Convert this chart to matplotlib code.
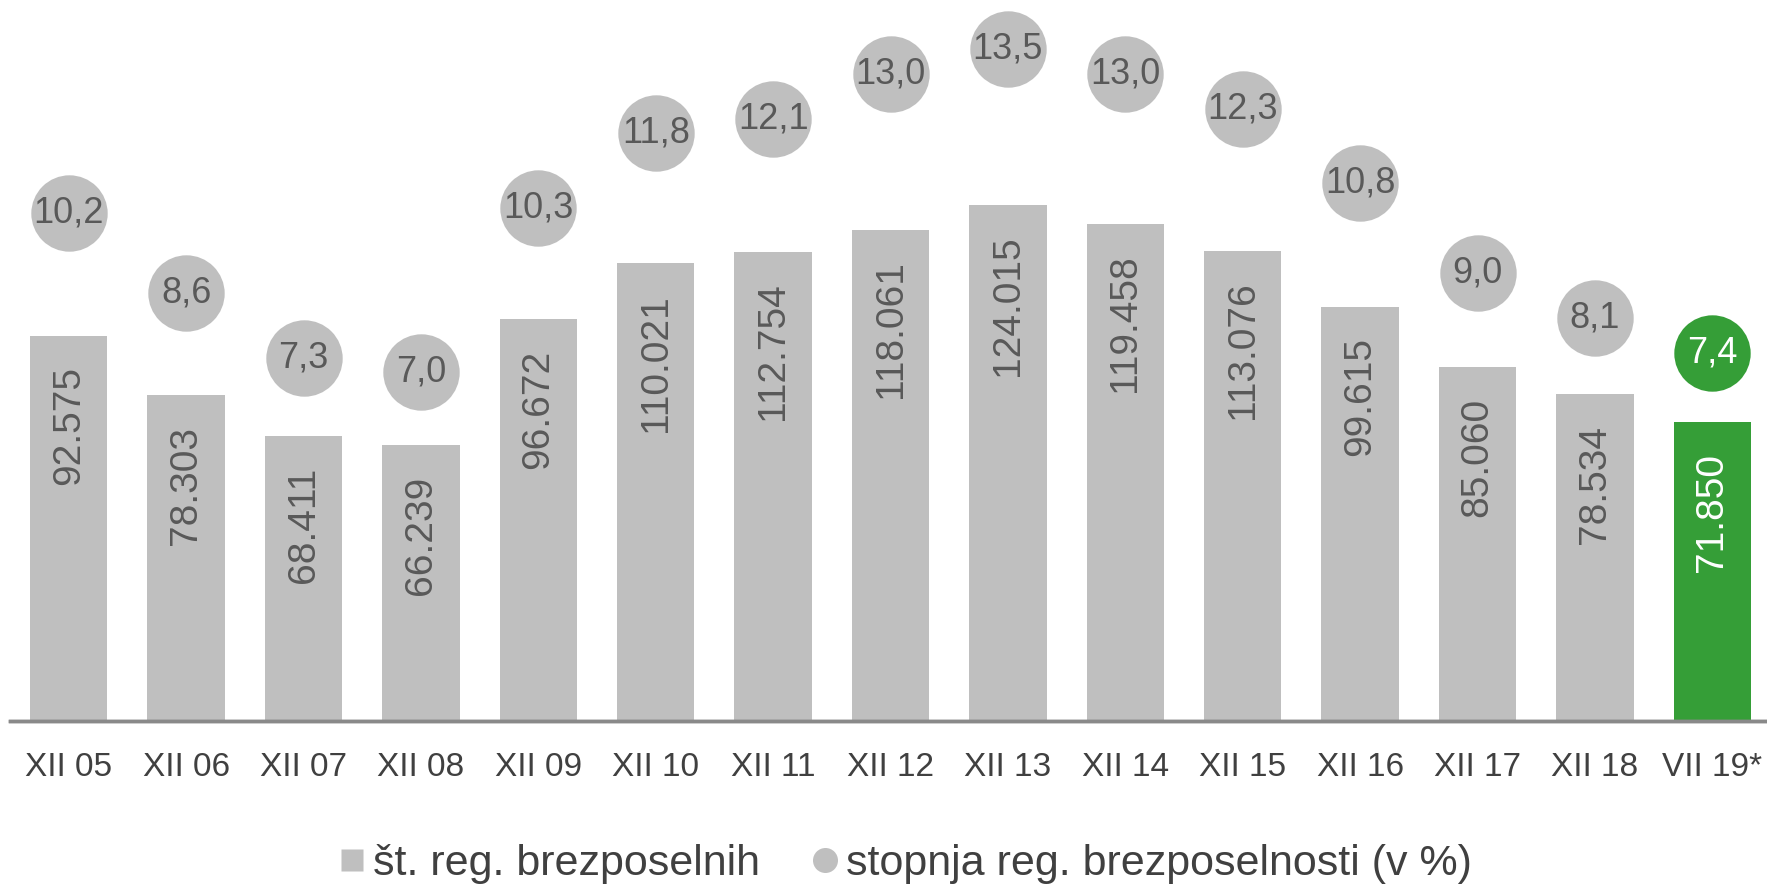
import matplotlib.pyplot as plt
from matplotlib.lines import Line2D

plt.rcParams["font.family"] = ["Liberation Sans", "DejaVu Sans"]

labels = ["XII 05", "XII 06", "XII 07", "XII 08", "XII 09", "XII 10", "XII 11",
          "XII 12", "XII 13", "XII 14", "XII 15", "XII 16", "XII 17", "XII 18", "VII 19*"]
brezposelni = [92575, 78303, 68411, 66239, 96672, 110021, 112754,
               118061, 124015, 119458, 113076, 99615, 85060, 78534, 71850]
stopnja = [10.2, 8.6, 7.3, 7.0, 10.3, 11.8, 12.1, 13.0, 13.5, 13.0, 12.3, 10.8, 9.0, 8.1, 7.4]

GREY = "#bfbfbf"
GREEN = "#359e37"
TXT = "#595959"

fig = plt.figure(figsize=(17.67, 8.89), dpi=100)
ax = fig.add_axes([10 / 1767, 1 - 721 / 889, 1761 / 1767, 721 / 889])
ax2 = ax.twinx()

x = list(range(len(labels)))
colors = [GREY] * (len(labels) - 1) + [GREEN]
ax.bar(x, brezposelni, width=0.66, color=colors, zorder=2)
ax.set_xlim(-0.5, len(labels) - 0.5)
ax.set_ylim(0, 173300)
ax2.set_ylim(0, 14.48)

for i, v in enumerate(brezposelni):
    c = "white" if i == len(labels) - 1 else TXT
    ax.annotate(f"{v / 1000:.3f}", (i, v), xytext=(0, -22), textcoords="offset points",
                rotation=90, ha="center", va="top", fontsize=28, color=c)

for i, v in enumerate(stopnja):
    last = i == len(labels) - 1
    ax2.plot(i, v, "o", ms=55, color=GREEN if last else GREY, mec="none", zorder=3)
    ax2.text(i, v, f"{v:.1f}".replace(".", ","), ha="center", va="center",
             fontsize=26, color="white" if last else TXT, zorder=4)

ax.set_xticks(x)
ax.set_xticklabels(labels, fontsize=24, color="#404040")
ax.tick_params(axis="x", length=0, pad=22)
ax.set_yticks([])
ax2.set_yticks([])
for a in (ax, ax2):
    for s in ("top", "left", "right"):
        a.spines[s].set_visible(False)
    a.spines["bottom"].set_color("#898989")
    a.spines["bottom"].set_linewidth(2.5)

handles = [
    Line2D([], [], marker="s", ls="none", ms=16, color=GREY, mec="none"),
    Line2D([], [], marker="o", ls="none", ms=18, color=GREY, mec="none"),
]
fig.legend(handles, ["št. reg. brezposelnih", "stopnja reg. brezposelnosti (v %)"],
           loc="center", bbox_to_anchor=(0.51, 0.028), ncol=2, frameon=False,
           fontsize=31, labelcolor="#404040", handletextpad=0.0, columnspacing=1.0,
           handlelength=1.0)

fig.savefig("out.png", dpi=100)
